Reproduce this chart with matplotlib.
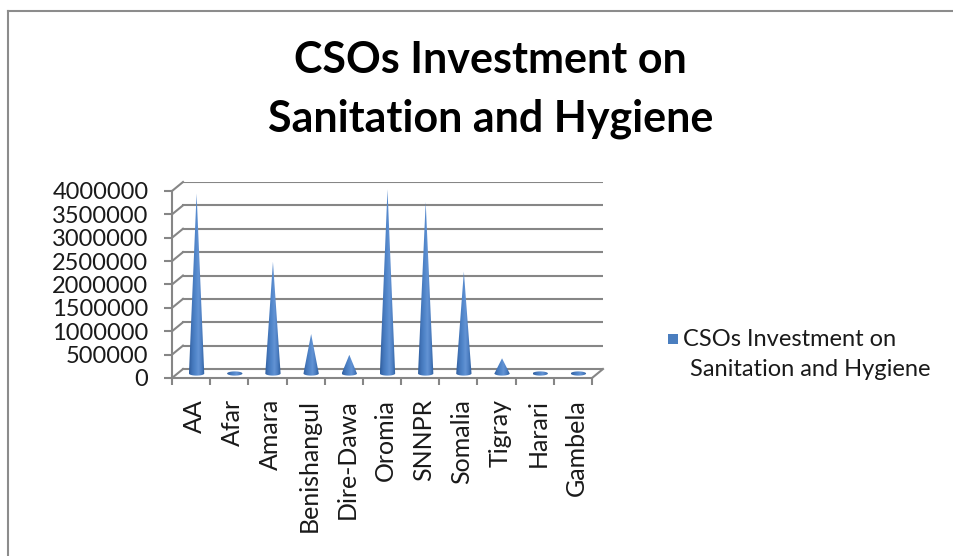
import numpy as np
import matplotlib
matplotlib.use("Agg")
import matplotlib.pyplot as plt
from matplotlib.colors import LinearSegmentedColormap
from matplotlib.patches import Polygon, Rectangle
from matplotlib.lines import Line2D

# regional CSO spending on sanitation and hygiene
regions = ["AA", "Afar", "Amara", "Benishangul", "Dire-Dawa", "Oromia",
           "SNNPR", "Somalia", "Tigray", "Harari", "Gambela"]
investment = [3850000, 15000, 2390000, 845000, 400000, 3940000,
              3670000, 2180000, 325000, 15000, 15000]
y_ticks = [0, 500000, 1000000, 1500000, 2000000, 2500000, 3000000, 3500000, 4000000]
series_name = ["CSOs Investment on", "Sanitation and Hygiene"]

plt.rcParams['font.family'] = ['Lato', 'DejaVu Sans']

grid_c = '#868686'
text_c = '#1a1a1a'
cone_c = '#4a7ebf'

# depth of the fake 3d box, in data units
DX = 0.288
DY = 192500
r = 0.2          # cone base radius
e = 45000        # half height of the base ellipse

fig = plt.figure(figsize=(9.54, 5.56), dpi=100)
ax = fig.add_axes([172 / 954, (556 - 378) / 556, 431 / 954, 196 / 556])
n = len(regions)
ax.set_xlim(-0.5, n - 0.5 + DX)
ax.set_ylim(0, y_ticks[-1] + DY)
for s in ax.spines.values():
    s.set_visible(False)

# back wall gridlines + side wall connectors
for t in y_ticks:
    ax.plot([-0.5 + DX, n - 0.5 + DX], [t + DY, t + DY], color=grid_c, lw=1.5, zorder=1)
    ax.plot([-0.5, -0.5 + DX], [t, t + DY], color=grid_c, lw=1.5, zorder=1, clip_on=False)
# front vertical axis, floor edges
ax.plot([-0.5, -0.5], [0, y_ticks[-1]], color=grid_c, lw=1.5, clip_on=False)
ax.plot([-0.5, n - 0.5], [0, 0], color=grid_c, lw=1.5, clip_on=False)
ax.plot([n - 0.5, n - 0.5 + DX], [0, DY], color=grid_c, lw=1.5, clip_on=False)

ax.set_yticks(y_ticks)
ax.set_yticklabels([str(t) for t in y_ticks])
ax.tick_params(axis='y', length=6, width=1.5, color=grid_c, pad=11,
               labelsize=17, labelcolor=text_c)
ax.set_xticks(np.arange(n + 1) - 0.5)
ax.set_xticklabels([])
ax.set_xticks(np.arange(n) + 0.09, minor=True)
ax.set_xticklabels(regions, minor=True, rotation=90, va='top')
ax.tick_params(axis='x', which='major', length=5, width=1.5, color=grid_c)
ax.tick_params(axis='x', which='minor', length=0, pad=15, labelsize=18, labelcolor=text_c)

cmap = LinearSegmentedColormap.from_list(
    'cone', ['#2d5c9c', '#4375b9', '#5085c9', '#6393d4', '#4a7dc0', '#2a5898'])
grad = np.linspace(0, 1, 256).reshape(1, -1)

# cones sit in the middle of the floor depth
for i, v in enumerate(investment):
    cx = i + DX / 2
    b = DY / 2
    t = np.linspace(0, np.pi, 60)
    xs = cx + r * np.cos(t)
    lower = b - e * np.sin(t)
    upper = np.maximum(b + e * np.sin(t), b + v * (1 - np.abs(xs - cx) / r))
    xu = xs[::-1]
    yu = upper[::-1]
    pts = np.column_stack([np.concatenate([xs, xu]), np.concatenate([lower, yu])])
    if v > e:
        apex_idx = len(xs) + len(xs) // 2
        pts = np.insert(pts, apex_idx, [cx, b + v], axis=0)
    poly = Polygon(pts, closed=True, facecolor='none', edgecolor='none')
    ax.add_patch(poly)
    top = max(b + v, b + e)
    im = ax.imshow(grad, cmap=cmap, extent=[cx - r, cx + r, b - e, top],
                   aspect='auto', origin='lower', zorder=3, interpolation='bilinear')
    im.set_clip_path(poly)

ax.set_xlim(-0.5, n - 0.5 + DX)
ax.set_ylim(0, y_ticks[-1] + DY)

fig.text(0.514, 0.839, "CSOs Investment on\nSanitation and Hygiene", ha='center', va='center',
         fontsize=31, fontweight='bold', color='black', linespacing=1.55)

# legend: swatch beside the first line, label wrapped onto a second line
fig.add_artist(Rectangle((668 / 954, 1 - 344 / 556), 10 / 954, 10 / 556,
                         facecolor=cone_c, edgecolor='none', transform=fig.transFigure))
fig.text(683 / 954, 1 - 339 / 556, series_name[0], ha='left', va='center',
         fontsize=17, color=text_c)
fig.text(690 / 954, 1 - 369 / 556, series_name[1], ha='left', va='center',
         fontsize=17, color=text_c)

# outer chart border (left and top only)
fig.add_artist(Line2D([8 / 954, 8 / 954], [0, 1 - 11 / 556], color='#8c8c8c', lw=1.5))
fig.add_artist(Line2D([8 / 954, 1], [1 - 11 / 556, 1 - 11 / 556], color='#8c8c8c', lw=1.5))

fig.savefig('out.png', dpi=100)
